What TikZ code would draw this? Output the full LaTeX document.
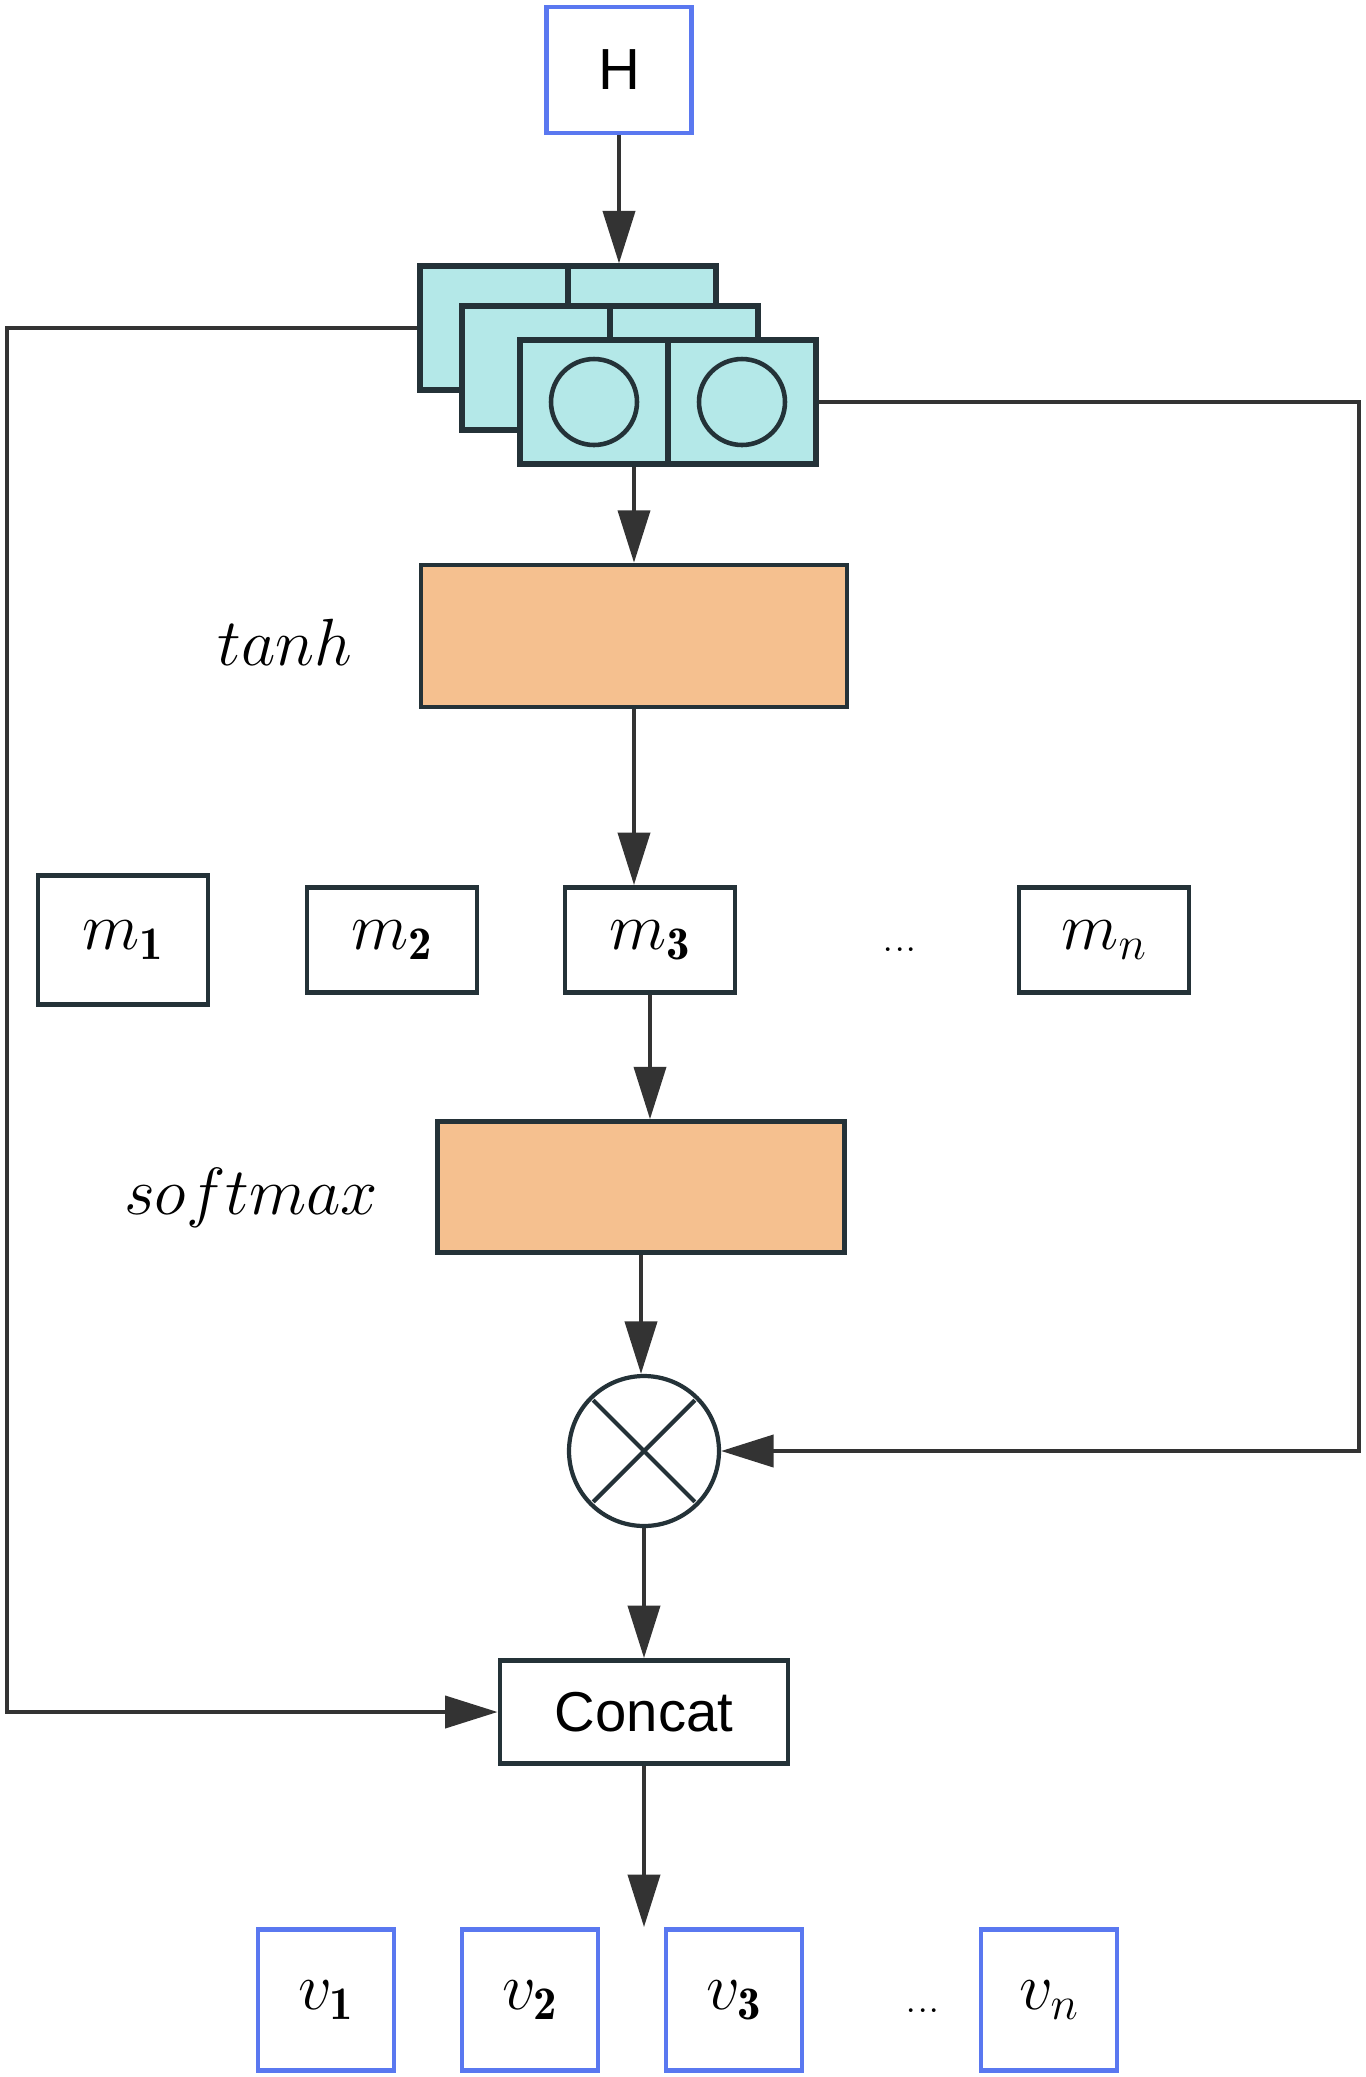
\RequirePackage{fix-cm}
\documentclass[tikz,border=0pt]{standalone}
\usepackage{amsmath}
\usepackage{fontspec}
\newfontfamily\sansfam{Liberation Sans}
\usetikzlibrary{arrows.meta}

\definecolor{linegray}{HTML}{333333}
\definecolor{celledge}{HTML}{243238}
\definecolor{cellcyan}{HTML}{B4E8E8}
\definecolor{boxorange}{HTML}{F5C08F}
\definecolor{boxblue}{HTML}{5A78F0}

\tikzset{
	conn/.style={draw=linegray, line width=2.3pt},
	stackcell/.style={draw=celledge, fill=cellcyan, line width=3pt, minimum width=2.96cm, minimum height=2.48cm},
	ring/.style={circle, draw=celledge, line width=2.6pt, minimum size=1.72cm},
	actbox/.style={draw=celledge, fill=boxorange, line width=2.6pt},
	mbox/.style={draw=celledge, line width=2.8pt, minimum width=3.4cm, minimum height=2.1cm, font=\fontsize{38}{42}\selectfont},
	vbox/.style={draw=boxblue, line width=2.8pt, minimum width=2.72cm, minimum height=2.82cm, font=\fontsize{38}{42}\selectfont},
	lbl/.style={font=\fontsize{38}{42}\selectfont},
	dots/.style={font=\fontsize{26}{30}\selectfont}
}

\begin{document}
\begin{tikzpicture}[->, >={Triangle[length=1.05cm, width=0.64cm]}, x=0.02cm, y=-0.02cm]
	\useasboundingbox (0,0) rectangle (1366,2077);

	\node[draw=boxblue, line width=2.8pt, minimum width=2.9cm, minimum height=2.52cm, font=\sansfam\fontsize{33}{36}\selectfont] (H) at (619,70) {H};

	% stacked maps, back to front
	\foreach \n/\x/\y in {bk/494/328, md/536/368, fr/594/402} {
		\node[stackcell] (\n1) at (\x,\y) {};
		\node[stackcell] (\n2) at (\x+148,\y) {};
	}
	\node[ring] (c1) at (fr1) {};
	\node[ring] (c2) at (fr2) {};

	\node[actbox, minimum width=8.52cm, minimum height=2.84cm] (tanh) at (634,636) {};
	\node[lbl] (tanhlbl) at (285,642) {$tanh$};

	\node[mbox, minimum height=2.58cm] (m1) at (123,940) {$m_{\mathbf{1}}$};
	\node[mbox] (m2) at (392,940) {$m_{\mathbf{2}}$};
	\node[mbox] (m3) at (650,940) {$m_{\mathbf{3}}$};
	\node[dots] (mdots) at (900,950) {...};
	\node[mbox] (mn) at (1104,940) {$m_n$};

	\node[actbox, minimum width=8.14cm, minimum height=2.62cm] (sm) at (641,1187) {};
	\node[lbl] (smlbl) at (251,1198) {$softmax$};

	\node[circle, draw=celledge, line width=2.4pt, minimum size=3cm] (ot) at (644,1451) {};
	\draw[-, draw=celledge, line width=2.4pt, shorten >=3pt, shorten <=3pt] (ot.north west) -- (ot.south east);
	\draw[-, draw=celledge, line width=2.4pt, shorten >=3pt, shorten <=3pt] (ot.north east) -- (ot.south west);

	\node[draw=celledge, line width=2.8pt, minimum width=5.76cm, minimum height=2.06cm, font=\sansfam\fontsize{32}{36}\selectfont] (cc) at (644,1712) {Concat};

	\node[vbox] (v1) at (326,2000) {$v_{\mathbf{1}}$};
	\node[vbox] (v2) at (530,2000) {$v_{\mathbf{2}}$};
	\node[vbox] (v3) at (734,2000) {$v_{\mathbf{3}}$};
	\node[dots] (vdots) at (923,2011) {...};
	\node[vbox] (vn) at (1049,2000) {$v_n$};

	\coordinate (lt) at (7,0);
	\coordinate (rt) at (1359,0);

	\draw[conn] (H.south) -- (H.south |- bk1.north);
	\draw[conn] (tanh.north |- fr1.south) -- (tanh.north);
	\draw[conn] (tanh.south) -- (tanh.south |- m3.north);
	\draw[conn] (m3.south) -- (m3.south |- sm.north);
	\draw[conn] (sm.south) -- (sm.south |- ot.north);
	\draw[conn] (ot.south) -- (cc.north);
	\draw[conn] (cc.south) -- (cc.south |- v1.north);
	\draw[conn] (bk1.west) -| (lt |- cc.west) -- (cc.west);
	\draw[conn] (fr2.east) -| (rt |- ot.east) -- (ot.east);
\end{tikzpicture}
\end{document}
